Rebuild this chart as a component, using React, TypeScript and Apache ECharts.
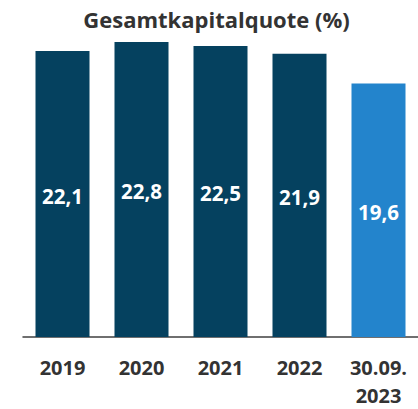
import React, { useEffect, useRef } from "react";
import * as echarts from "echarts";

const categories = ["2019", "2020", "2021", "2022", "30.09.\n2023"];
const values = [22.1, 22.8, 22.5, 21.9, 19.6];
const barColors = ["#05415f", "#05415f", "#05415f", "#05415f", "#2384cc"];
const titleText = "Gesamtkapitalquote (%)";

export default function App() {
  const ref = useRef<HTMLDivElement>(null);
  useEffect(() => {
    if (!ref.current) return;
    const chart = echarts.init(ref.current, null, { renderer: "svg" });
    chart.setOption({
      animation: false,
      backgroundColor: "#ffffff",
      graphic: [
        {
          type: "text",
          x: 216.5,
          y: 19,
          style: {
            text: titleText,
            fontFamily: "Open Sans",
            fontWeight: "bold",
            fontSize: 22,
            fill: "#333333",
            align: "center",
            verticalAlign: "middle",
          },
        },
      ],
      grid: { left: 23, right: -4, top: 42, bottom: 71.5, containLabel: false },
      xAxis: {
        type: "category",
        data: categories,
        axisLine: { show: true, lineStyle: { color: "#404040", width: 1.5 } },
        axisTick: { show: false },
        axisLabel: {
          interval: 0,
          margin: 16,
          fontFamily: "Open Sans",
          fontWeight: "bold",
          fontSize: 20,
          lineHeight: 28,
          color: "#333333",
        },
      },
      yAxis: { type: "value", show: false, min: 0, max: 22.8 },
      series: [
        {
          type: "bar",
          barWidth: 54,
          data: values.map((v, i) => ({ value: v, itemStyle: { color: barColors[i] } })),
          label: {
            show: true,
            position: "inside",
            offset: [0, 1.5],
            formatter: (p: any) => String(p.value).replace(".", ","),
            fontFamily: "Open Sans",
            fontWeight: "bold",
            fontSize: 20.5,
            color: "#ffffff",
          },
        },
      ],
    });
    return () => chart.dispose();
  }, []);
  return (
    <div
      ref={ref}
      style={{ position: "fixed", left: 0, top: 0, width: 418, height: 409 }}
    />
  );
}
